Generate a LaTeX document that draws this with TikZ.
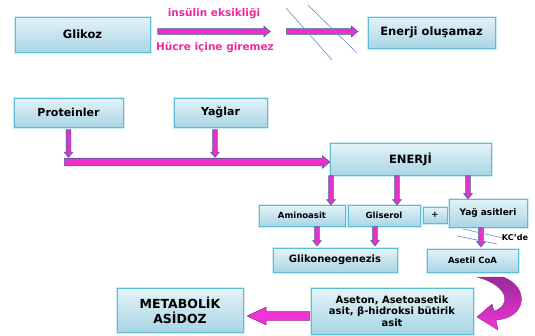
\documentclass[tikz,border=0pt]{standalone}
\usepackage{fontspec}
\setmainfont{DejaVu Sans}
\usetikzlibrary{calc, shapes.arrows}
\definecolor{boxtop}{HTML}{E4F3F8}
\definecolor{boxbot}{HTML}{A9D5E5}
\definecolor{boxline}{HTML}{5BBCD6}
\definecolor{boxglow}{HTML}{D2ECF3}
\definecolor{arrowpink}{HTML}{EA2FCB}
\definecolor{arrowline}{HTML}{476895}
\definecolor{labelpink}{HTML}{EE2A9C}
\definecolor{slashblue}{HTML}{6790C6}
\definecolor{curvetop}{HTML}{9A2A98}
\definecolor{curvebot}{HTML}{F034D6}

\tikzset{
  box/.style={draw=boxline, line width=0.9pt, top color=boxtop, bottom color=boxbot,
    preaction={draw=boxglow, line width=3pt}, inner sep=0pt, align=center, font=\bfseries},
  barrowshape/.style={single arrow, draw=arrowline, fill=arrowpink, line width=0.6pt,
    inner xsep=0pt, inner ysep=2.5pt, minimum width=0pt, single arrow head extend=2.5pt, single arrow tip angle=80},
  thinarrow/.style={inner ysep=2pt, single arrow head extend=2pt},
  widearrow/.style={inner ysep=3.5pt, single arrow head extend=2.5pt},
  bigarrow/.style={inner ysep=4pt, single arrow head extend=4.5pt, single arrow tip angle=50,
    draw=curvetop, fill=curvebot},
  slash/.style={draw=slashblue, line width=0.6pt},
  pinklabel/.style={text=labelpink, font=\bfseries\fontsize{10.5}{12}\selectfont}
}

\newcommand{\barrow}[3][]{%
  \path let \p1=(#2), \p2=(#3),
    \n1={atan2(\y2-\y1,\x2-\x1)}, \n2={veclen(\x2-\x1,\y2-\y1)} in
    node[barrowshape, #1, minimum height=\n2, rotate=\n1, anchor=tail] at (\p1) {};}

\begin{document}
\begin{tikzpicture}[x=1pt, y=-1pt]
  \useasboundingbox (0,0) rectangle (535,335);

  \node[box, minimum width=135pt, minimum height=35pt, font=\bfseries\fontsize{11.5}{13}\selectfont] (glikoz) at (82.5,34.5) {Glikoz};
  \node[box, minimum width=127pt, minimum height=31pt, font=\bfseries\fontsize{11.5}{13}\selectfont] (olusamaz) at (431.5,32.5) {Enerji oluşamaz};

  \node[pinklabel] (eksik) at (214,14) {insülin eksikliği};
  \node[pinklabel, font=\bfseries\fontsize{10.5}{12}\selectfont] (hucre) at (215,48) {Hücre içine giremez};

  \coordinate (a1) at (270,31.5);
  \coordinate (a2) at (286,31.5);
  \barrow{[xshift=7pt]glikoz.east |- a1}{a1}
  \barrow{a2}{[xshift=-10pt]olusamaz.west |- a2}

  \draw[slash] (286,8) -- (332,60);
  \draw[slash] (308,5) -- (357,53);

  \node[box, minimum width=109pt, minimum height=29pt, font=\bfseries\fontsize{11}{12}\selectfont] (protein) at (68.5,112.5) {Proteinler};
  \node[box, minimum width=93pt, minimum height=29pt, font=\bfseries\fontsize{11}{12}\selectfont] (yag) at (220.5,112.5) {Yağlar};
  \node[box, minimum width=161pt, minimum height=32pt, font=\bfseries\fontsize{11.5}{13}\selectfont] (enerji) at (410.5,159) {ENERJİ};

  \coordinate (hstart) at (64,162);
  \coordinate (ydown) at (215,157);
  \barrow[thinarrow]{[yshift=-2pt]protein.south}{protein.south |- ydown}
  \barrow[thinarrow]{[yshift=-2pt]yag.south -| ydown}{ydown}
  \barrow[widearrow]{hstart}{enerji.west |- hstart}

  \node[box, minimum width=86pt, minimum height=21pt, font=\bfseries\fontsize{8.5}{10}\selectfont] (amino) at (302,215.5) {Aminoasit};
  \node[box, minimum width=72pt, minimum height=21pt, font=\bfseries\fontsize{8.5}{10}\selectfont] (gliserol) at (384,215.5) {Gliserol};
  \node[box, minimum width=24pt, minimum height=16pt, font=\bfseries\fontsize{8.5}{10}\selectfont] (arti) at (435,215) {+};
  \node[box, minimum width=78pt, minimum height=28pt, font=\bfseries\fontsize{9}{11}\selectfont] (yagasit) at (488,213) {Yağ asitleri};

  \coordinate (c1) at (331,0);
  \coordinate (c2) at (397,0);
  \coordinate (c3) at (468,0);
  \barrow[thinarrow]{enerji.south -| c1}{amino.north -| c1}
  \barrow[thinarrow]{enerji.south -| c2}{gliserol.north -| c2}
  \barrow[thinarrow]{enerji.south -| c3}{yagasit.north -| c3}

  \node[box, minimum width=124pt, minimum height=24pt, font=\bfseries\fontsize{10}{12}\selectfont] (gliko) at (335,260) {Glikoneogenezis};
  \node[box, minimum width=91pt, minimum height=23pt, font=\bfseries\fontsize{8.5}{10}\selectfont] (asetil) at (472.5,260.5) {Asetil CoA};

  \coordinate (c4) at (317,0);
  \coordinate (c5) at (375,0);
  \coordinate (c6) at (481,0);
  \barrow[thinarrow]{amino.south -| c4}{[yshift=2pt]gliko.north -| c4}
  \barrow[thinarrow]{gliserol.south -| c5}{[yshift=2pt]gliko.north -| c5}
  \barrow[thinarrow]{yagasit.south -| c6}{[yshift=2pt]asetil.north -| c6}

  \draw[slash] (463,229) -- (503,238);
  \draw[slash] (457,236) -- (497,244);
  \node[font=\bfseries\fontsize{8}{10}\selectfont, inner sep=0pt] (kc) at (515,238) {KC’de};

  \node[box, minimum width=162pt, minimum height=46pt, font=\bfseries\fontsize{10}{11.5}\selectfont] (aseton) at (392,311)
    {Aseton, Asetoasetik\\asit, β-hidroksi bütirik\\asit};
  \node[box, minimum width=126pt, minimum height=44pt, font=\bfseries\fontsize{12.5}{15}\selectfont] (asidoz) at (180,310) {METABOLİK\\ASİDOZ};

  \coordinate (lstart) at (310,316);
  \barrow[bigarrow]{lstart}{[xshift=4pt]asidoz.east |- lstart}

  \draw[curvetop, line width=0.4pt, top color=curvetop, bottom color=curvebot]
    (477,277) -- (503,277) .. controls (530,287) and (527,318) .. (496,320)
    -- (498,330) -- (477,317) -- (492,304) -- (494,311)
    .. controls (511,306) and (510,286) .. (477,277) -- cycle;
\end{tikzpicture}
\end{document}
